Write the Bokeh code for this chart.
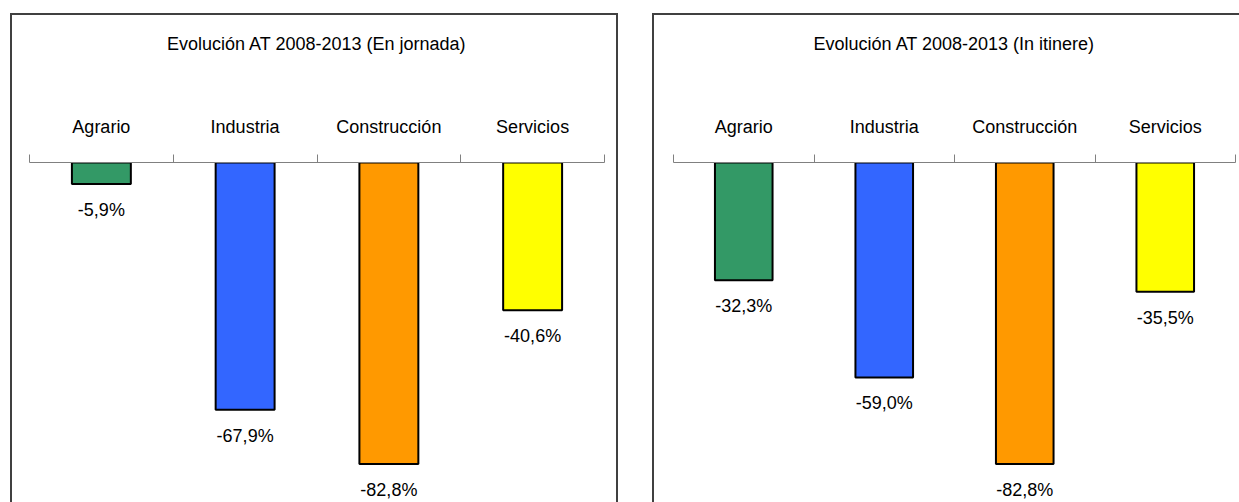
from bokeh.plotting import figure
from bokeh.models import LinearAxis, FixedTicker, Range1d, Spacer, ColumnDataSource
from bokeh.layouts import row, column
from bokeh.core.properties import value
from bokeh.embed import file_html
from bokeh.resources import INLINE

categories = ["Agrario", "Industria", "Construcción", "Servicios"]
jornada = [-5.9, -67.9, -82.8, -40.6]
itinere = [-32.3, -59.0, -82.8, -35.5]
colors = ["#339966", "#3366FF", "#FF9900", "#FFFF00"]
titles = ["Evolución AT 2008-2013 (En jornada)", "Evolución AT 2008-2013 (In itinere)"]

FONT = "Liberation Sans"
BORDER = "2px solid #404040"


def make_panel(title, values, width, left, right, border_styles):
    n = len(categories)
    p = figure(width=width, height=489, output_backend="svg", toolbar_location=None,
               x_range=Range1d(0, n), y_range=Range1d(-93.9, 0),
               x_axis_location=None, y_axis_location=None,
               min_border_left=left, min_border_right=right,
               min_border_top=147, min_border_bottom=0)
    p.outline_line_color = None
    p.grid.grid_line_color = None
    p.background_fill_color = "white"
    p.border_fill_color = "white"
    p.styles = border_styles

    centers = [i + 0.5 for i in range(n)]
    ticker = FixedTicker(ticks=centers, minor_ticks=[float(i) for i in range(n + 1)])
    ax = LinearAxis(ticker=ticker, axis_label=title,
                    major_label_overrides={c: lab for c, lab in zip(centers, categories)})
    ax.axis_line_color = "#808080"
    ax.axis_line_width = 1
    ax.major_tick_line_color = None
    ax.major_tick_out = 0
    ax.major_tick_in = 0
    ax.minor_tick_line_color = "#808080"
    ax.minor_tick_out = 8
    ax.minor_tick_in = 0
    ax.major_label_standoff = 18
    ax.major_label_text_font = FONT
    ax.major_label_text_font_size = "18px"
    ax.major_label_text_color = "black"
    ax.axis_label_standoff = 60
    ax.axis_label_text_font = FONT
    ax.axis_label_text_font_size = "18px"
    ax.axis_label_text_font_style = "normal"
    ax.axis_label_text_color = "black"
    p.add_layout(ax, "above")

    src = ColumnDataSource(dict(
        x=centers, top=[0] * n, bottom=values, color=colors,
        label=[f"{v:.1f}%".replace(".", ",") for v in values]))
    p.vbar(x="x", top="top", bottom="bottom", width=0.41, source=src,
           fill_color="color", line_color="black", line_width=2)
    p.text(x="x", y="bottom", text="label", source=src, text_align="center",
           text_baseline="top", y_offset=16, text_font=value(FONT),
           text_font_size="18px", text_color="black")
    return p


p1 = make_panel(titles[0], jornada, 608, 17, 16,
                {"border-top": BORDER, "border-left": BORDER, "border-right": BORDER,
                 "box-sizing": "border-box"})
p2 = make_panel(titles[1], itinere, 587, 19, 6,
                {"border-top": BORDER, "border-left": BORDER, "box-sizing": "border-box"})

layout = column(Spacer(height=13), row(Spacer(width=10), p1, Spacer(width=34), p2))

open("out.html", "w").write(file_html(layout, INLINE))
